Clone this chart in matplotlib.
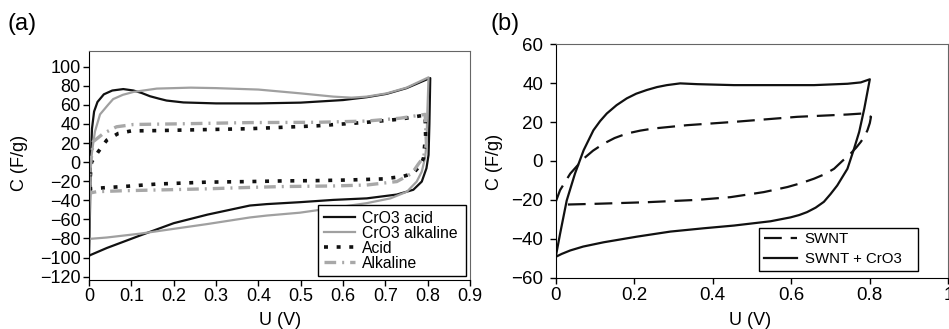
import matplotlib
matplotlib.use("Agg")
import matplotlib.pyplot as plt

plt.rcParams['font.family'] = ['Liberation Sans', 'DejaVu Sans']

# ---- panel (a): CV loops, U (V) vs C (F/g) ----
cro3_acid_u = [0.0, 0.002, 0.004, 0.007, 0.012, 0.02, 0.035, 0.055, 0.081, 0.105, 0.125, 0.144,
               0.165, 0.183, 0.223, 0.30, 0.40, 0.50, 0.60, 0.656, 0.703, 0.75, 0.80, 0.806,
               0.804, 0.802, 0.797, 0.786, 0.766, 0.727, 0.656, 0.577, 0.498, 0.42, 0.38,
               0.28, 0.20, 0.12, 0.042, 0.0]
cro3_acid_c = [-98, -60, 0, 35, 53, 63, 71, 75, 76.5, 75, 72.3, 69,
               66.5, 64.5, 62.5, 61.5, 61.5, 62.3, 65, 68, 71.5, 77.5, 87, 88,
               40, 7.5, -6.5, -20.4, -29, -34, -38, -39.6, -42, -44, -45.5,
               -55, -64, -77, -90, -98]

cro3_alk_u = [0.0, 0.002, 0.004, 0.01, 0.014, 0.026, 0.045, 0.057, 0.08, 0.105, 0.16, 0.24,
              0.3, 0.4, 0.5, 0.577, 0.62, 0.656, 0.703, 0.75, 0.802,
              0.799, 0.797, 0.794, 0.786, 0.774, 0.751, 0.712, 0.656, 0.577, 0.498, 0.42,
              0.38, 0.278, 0.199, 0.12, 0.042, 0.0]
cro3_alk_c = [-80.5, -40, 0, 20, 32, 50, 60, 66, 70.5, 73.5, 77, 78,
              77.5, 76, 72, 68.6, 67.5, 68.6, 72, 78, 88.8,
              50, 19, 5, -10, -20.4, -31, -38, -43, -48, -53, -56,
              -58, -65, -70, -75, -79, -80.5]

acid_u = [0.0, 0.003, 0.006, 0.022, 0.042, 0.069, 0.1, 0.16, 0.38, 0.538, 0.656, 0.735,
          0.786, 0.794, 0.795, 0.79, 0.783, 0.766, 0.742, 0.695, 0.617, 0.538, 0.46,
          0.38, 0.278, 0.16, 0.081, 0.042, 0.0]
acid_c = [-28, -15, 0, 11, 23, 30, 32.7, 33, 35, 38, 41.7, 45,
          48.7, 49.4, 28, 4, -3, -11.7, -15, -17.6, -18.7, -19.4, -19.7,
          -20.4, -21, -23, -25.6, -26.7, -28]

alk_u = [0.0, 0.003, 0.01, 0.034, 0.065, 0.105, 0.2, 0.38, 0.538, 0.656, 0.735, 0.794,
         0.797, 0.79, 0.778, 0.763, 0.727, 0.656, 0.577, 0.46, 0.38, 0.278, 0.183,
         0.081, 0.018, 0.0]
alk_c = [-32.6, -5, 21.5, 30, 37, 39.4, 40, 41.4, 41.7, 43, 46, 50,
         19, 5, -2, -11.7, -20.4, -24, -25, -25.6, -26.5, -28, -29,
         -30, -31, -32.6]

a_yticks = [-120, -100, -80, -60, -40, -20, 0, 20, 40, 60, 80, 100]
a_xticks = [0, 0.1, 0.2, 0.3, 0.4, 0.5, 0.6, 0.7, 0.8, 0.9]
a_xticklabels = ['0', '0.1', '0.2', '0.3', '0.4', '0.5', '0.6', '0.7', '0.8', '0.9']

# ---- panel (b) ----
swnt_cro3_u = [0.0, 0.011, 0.028, 0.049, 0.071, 0.096, 0.113, 0.13, 0.155, 0.181, 0.205, 0.232,
               0.258, 0.283, 0.317, 0.36, 0.454, 0.573, 0.658, 0.743, 0.777, 0.80,
               0.786, 0.773, 0.76, 0.743, 0.717, 0.70, 0.683, 0.662, 0.64, 0.62, 0.598,
               0.547, 0.454, 0.377, 0.292, 0.207, 0.122, 0.07, 0.037, 0.015, 0.0]
swnt_cro3_c = [-49.3, -37.5, -20.3, -6.5, 5.5, 15.8, 20.5, 24.4, 28.7, 32.2, 34.6, 36.5,
               38.0, 39, 39.9, 39.5, 39, 39, 39, 39.7, 40.4, 42,
               27, 15, 6.4, -4, -12.6, -17, -21, -24, -26.3, -27.8, -29,
               -31, -33.2, -34.6, -36.3, -38.9, -41.8, -44, -46, -47.8, -49.3]

swnt_u = [0.0, 0.011, 0.037, 0.071, 0.095, 0.122, 0.15, 0.181, 0.215, 0.249, 0.334, 0.454,
          0.615, 0.743, 0.781,
          0.803, 0.80, 0.794, 0.787, 0.777, 0.765, 0.751, 0.73, 0.709, 0.685, 0.658,
          0.625, 0.59, 0.53, 0.445, 0.36, 0.232, 0.105, 0.028]
swnt_c = [-21, -15, -6.5, 1.2, 5.3, 8.9, 11.8, 14.1, 15.6, 16.7, 18.4, 20.1,
          22.7, 23.9, 24.4,
          22.7, 19.5, 15.8, 12.8, 9.8, 6.8, 3.8, 0, -4, -6.8, -9.1,
          -11.4, -13.4, -16, -18.6, -20, -21.2, -22, -22.4]

b_yticks = [-60, -40, -20, 0, 20, 40, 60]
b_xticks = [0, 0.2, 0.4, 0.6, 0.8, 1.0]
b_xticklabels = ['0', '0.2', '0.4', '0.6', '0.8', '1']

fig = plt.figure(figsize=(9.49, 3.29), dpi=100)
ax1 = fig.add_axes([0.0938, 0.149, 0.4015, 0.696])
ax2 = fig.add_axes([0.5856, 0.156, 0.4137, 0.7094])

ax1.plot(cro3_acid_u, cro3_acid_c, color='#111111', lw=1.6, label='CrO3 acid')
ax1.plot(cro3_alk_u, cro3_alk_c, color='#a0a0a0', lw=1.6, label='CrO3 alkaline')
ax1.plot(acid_u, acid_c, color='#111111', lw=2.6, linestyle=(0, (1.1, 2.4)), label='Acid')
ax1.plot(alk_u, alk_c, color='#a8a8a8', lw=2.4, linestyle=(0, (3.5, 1.8, 0.6, 1.8)), label='Alkaline')

ax1.set_xlim(0, 0.9)
ax1.set_ylim(-123.5, 116.4)
ax1.set_yticks(a_yticks)
ax1.set_xticks(a_xticks)
ax1.set_xticklabels(a_xticklabels)
ax1.set_xlabel('U (V)', fontsize=13)
ax1.set_ylabel('C (F/g)', fontsize=13)
ax1.xaxis.set_label_coords(0.501, -0.14)
ax1.yaxis.set_label_coords(-0.16, 0.511)
ax1.tick_params(direction='out', length=4, width=1, labelsize=13, pad=2)
leg1 = ax1.legend(loc='lower left', bbox_to_anchor=(0.601, 0.017, 0.3885, 0.3), mode='expand',
                  borderaxespad=0, fontsize=11.3, labelspacing=0.0, handlelength=2.0,
                  handletextpad=0.45, borderpad=0.35, fancybox=False, framealpha=1,
                  edgecolor='black')
leg1.get_frame().set_linewidth(1.0)

ax2.plot(swnt_u, swnt_c, color='#111111', lw=1.6, linestyle=(0, (8, 4)), label='SWNT')
ax2.plot(swnt_cro3_u, swnt_cro3_c, color='#111111', lw=1.6, label='SWNT + CrO3')
ax2.set_xlim(0, 1)
ax2.set_ylim(-60, 60)
ax2.set_yticks(b_yticks)
ax2.set_xticks(b_xticks)
ax2.set_xticklabels(b_xticklabels)
ax2.set_xlabel('U (V)', fontsize=13)
ax2.set_ylabel('C (F/g)', fontsize=13)
ax2.xaxis.set_label_coords(0.495, -0.146)
ax2.yaxis.set_label_coords(-0.134, 0.496)
ax2.tick_params(direction='out', length=4, width=1, labelsize=13.5)
ax2.tick_params(axis='y', pad=5)
ax2.tick_params(axis='x', pad=3)
leg2 = ax2.legend(loc='lower left', bbox_to_anchor=(0.518, 0.029, 0.405, 0.2), mode='expand',
                  borderaxespad=0, fontsize=10.8, labelspacing=0.4, handlelength=2.2,
                  handletextpad=0.55, borderpad=0.3, fancybox=False, framealpha=1,
                  edgecolor='black')
leg2.get_frame().set_linewidth(1.0)

for ax in (ax1, ax2):
    ax.spines['left'].set_color('black')
    ax.spines['bottom'].set_color('black')
    ax.spines['top'].set_color('#666666')
    ax.spines['right'].set_color('#666666')

fig.text(22 / 949, 1 - 24 / 329, '(a)', ha='center', va='center', fontsize=17)
fig.text(505 / 949, 1 - 24 / 329, '(b)', ha='center', va='center', fontsize=17)

fig.savefig('out.png', dpi=100)
